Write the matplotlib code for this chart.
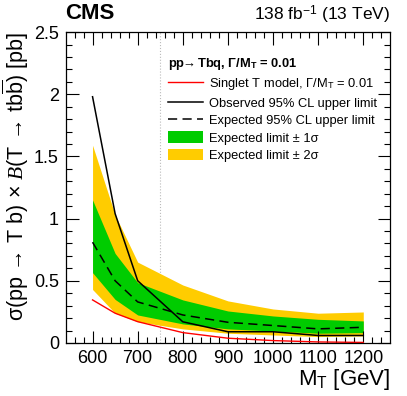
import matplotlib as mpl
import matplotlib.pyplot as plt
from matplotlib.lines import Line2D
from matplotlib.patches import Patch
from matplotlib.ticker import MultipleLocator

mpl.rcParams['font.family'] = ['Liberation Sans', 'DejaVu Sans']
mpl.rcParams['mathtext.fontset'] = 'custom'
mpl.rcParams['mathtext.rm'] = 'Liberation Sans'
mpl.rcParams['mathtext.it'] = 'Liberation Serif:italic'
mpl.rcParams['mathtext.bf'] = 'Liberation Sans:bold'

# data
mass = [600, 650, 700, 800, 900, 1000, 1100, 1200]
observed = [1.98, 1.04, 0.50, 0.17, 0.09, 0.09, 0.06, 0.06]
expected = [0.81, 0.50, 0.33, 0.225, 0.166, 0.14, 0.113, 0.126]
exp_1s_lo = [0.565, 0.35, 0.225, 0.153, 0.113, 0.096, 0.078, 0.083]
exp_1s_hi = [1.15, 0.72, 0.485, 0.346, 0.257, 0.217, 0.19, 0.177]
exp_2s_lo = [0.43, 0.239, 0.171, 0.113, 0.078, 0.064, 0.051, 0.056]
exp_2s_hi = [1.59, 1.03, 0.65, 0.466, 0.338, 0.273, 0.239, 0.249]
theory = [0.346, 0.239, 0.171, 0.083, 0.038, 0.019, 0.008, 0.004]
marker_mass = 750

green = '#00cc00'
yellow = '#ffcc00'

fig = plt.figure(figsize=(4.07, 3.96), dpi=100)
ax = fig.add_axes([0.162, 0.134, 0.796, 0.785])

ax.fill_between(mass, exp_2s_lo, exp_2s_hi, color=yellow, lw=0)
ax.fill_between(mass, exp_1s_lo, exp_1s_hi, color=green, lw=0)
ax.plot(mass, theory, color='red', lw=1.0)
ax.plot(mass, observed, color='black', lw=1.1)
ax.plot(mass, expected, color='black', lw=1.1, dashes=(6, 3.5))
ax.axvline(marker_mass, color='#bbbbbb', lw=0.8, ls=':', zorder=0)

ax.set_xlim(541, 1259)
ax.set_ylim(0, 2.5)
ax.xaxis.set_major_locator(MultipleLocator(100))
ax.xaxis.set_minor_locator(MultipleLocator(20))
ax.yaxis.set_major_locator(MultipleLocator(0.5))
ax.yaxis.set_minor_locator(MultipleLocator(0.1))
ax.yaxis.set_major_formatter(mpl.ticker.FuncFormatter(lambda v, p: f'{v:g}'))
ax.tick_params(which='both', direction='in', top=True, right=True,
               labelsize=13, width=0.8)
ax.tick_params(which='major', length=9, pad=5)
ax.tick_params(which='minor', length=4.5)
for s in ax.spines.values():
    s.set_linewidth(0.9)

ax.set_xlabel(r'M$_\mathrm{T}$ [GeV]', fontsize=16, loc='right', labelpad=0)
# arrows are relations in mathtext and get their own spacing
ax.set_ylabel(r'σ(pp $\!\rightarrow\!$ T b) $\times$ $\mathit{B}$(T $\!\rightarrow\!$ t$\mathrm{b\overline{b}}$) [pb]',
              fontsize=15.5, loc='top', labelpad=2)

fig.text(0.16, 0.94, 'CMS', fontsize=16, fontweight='bold', ha='left', va='bottom')
fig.text(0.958, 0.935, r'138 fb$^{-1}$ (13 TeV)', fontsize=12.5, ha='right', va='bottom')

handles = [
    Line2D([], [], color='red', lw=1.0),
    Line2D([], [], color='black', lw=1.1),
    Line2D([], [], color='black', lw=1.1, dashes=(6, 3.5)),
    Patch(facecolor=green, edgecolor='none'),
    Patch(facecolor=yellow, edgecolor='none'),
]
labels = [
    r'Singlet T model, Γ/M$_\mathrm{T}$ = 0.01',
    'Observed 95% CL upper limit',
    'Expected 95% CL upper limit',
    'Expected limit ± 1σ',
    'Expected limit ± 2σ',
]
leg = ax.legend(handles, labels, loc='upper left', bbox_to_anchor=(0.30, 0.94),
                frameon=False, fontsize=9.3, handlelength=2.7, handleheight=1.0,
                handletextpad=0.45, labelspacing=0.33, borderaxespad=0,
                title=r'pp$\!\!\rightarrow$Tbq, Γ/M$_\mathbf{T}$ = 0.01',
                title_fontproperties={'weight': 'bold', 'size': 9.3},
                alignment='left')

fig.savefig('out.png', dpi=100)
